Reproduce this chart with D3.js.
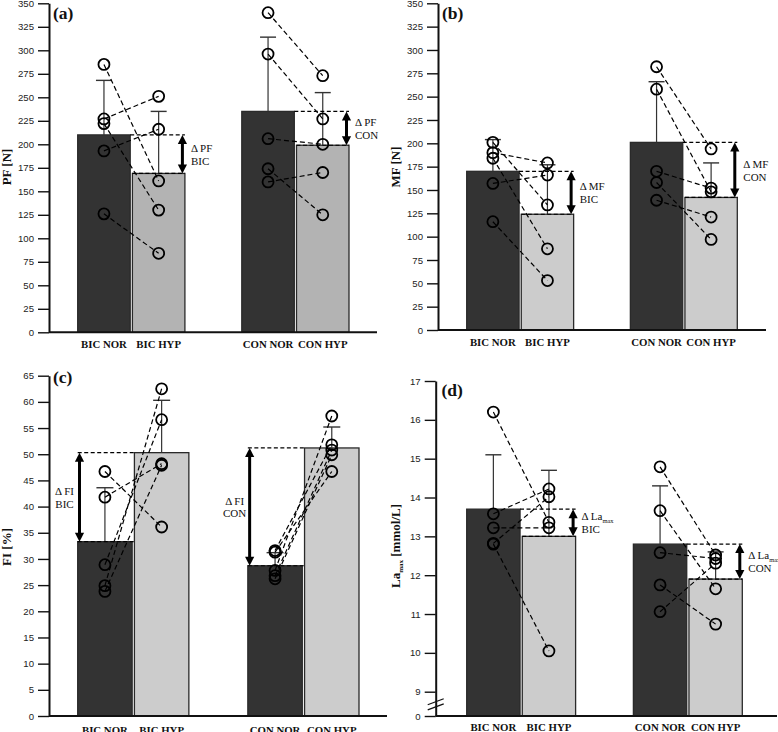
<!DOCTYPE html>
<html><head><meta charset="utf-8">
<script src="https://cdnjs.cloudflare.com/ajax/libs/d3/7.8.5/d3.min.js"></script>
<style>body{margin:0;background:#fff}svg{display:block}</style>
</head><body>
<svg id="chart" width="778" height="732"></svg>
<script>
const categories = ["BIC NOR", "BIC HYP", "CON NOR", "CON HYP"];

// (a) PF [N]
const pfMean = [210, 169, 235, 199];
const pfErrTop = [268, 235, 314, 255];
const pfBicNor = [285, 227, 222, 193, 126];
const pfBicHyp = [161, 251, 130, 216, 84];
const pfConNor = [340, 296, 206, 174, 160];
const pfConHyp = [273, 227, 200, 125, 170];
const pfTicks = [0, 25, 50, 75, 100, 125, 150, 175, 200, 225, 250, 275, 300, 325, 350];

// (b) MF [N]
const mfMean = [170, 124, 201, 142];
const mfErrTop = [204, 177, 266, 179];
const mfBicNor = [201, 190, 184, 157, 116];
const mfBicHyp = [134, 179, 87, 166, 53];
const mfConNor = [282, 258, 170, 158, 139];
const mfConHyp = [194, 148, 152, 97, 121];
const mfTicks = [0, 25, 50, 75, 100, 125, 150, 175, 200, 225, 250, 275, 300, 325, 350];

// (c) FI [%]
const fiMean = [33.3, 50.3, 28.7, 51.2];
const fiErrTop = [43.6, 60.3, 31.2, 55.2];
const fiBicNor = [46.7, 41.8, 28.9, 24.9, 23.8];
const fiBicHyp = [36.1, 48.2, 56.6, 62.5, 47.9];
const fiConNor = [31.6, 31.3, 27.8, 26.8, 26.2];
const fiConHyp = [51.8, 46.7, 57.3, 50.8, 49.9];
const fiTicks = [0, 5, 10, 15, 20, 25, 30, 35, 40, 45, 50, 55, 60, 65];

// (d) La_max [mmol/L]
const laMean = [13.7, 13.0, 12.8, 11.9];
const laErrTop = [15.1, 14.7, 14.3, 12.6];
const laBicNor = [16.2, 13.58, 13.22, 12.82, 12.8];
const laBicHyp = [13.36, 14.22, 13.22, 14.02, 10.05];
const laConNor = [14.79, 13.66, 12.58, 11.75, 11.06];
const laConHyp = [12.52, 11.65, 12.43, 10.74, 12.31];
const laTicks = [0, 9, 10, 11, 12, 13, 14, 15, 16, 17];

const panels = [
  { mean: pfMean, err: pfErrTop, bic: [pfBicNor, pfBicHyp], con: [pfConNor, pfConHyp], ticks: pfTicks,
    domain: [0, 350], range: [332.3, 3.3], ax: 49, x0: 77.7, x1: 349, xEnd: 377,
    label: "(a)", lx: 53, ly: 19, title: "PF [N]", tx: 10.5, ty: 167, catY: 348, hypFill: "#b3b3b3",
    side: "right", dName: "PF", cap: 16 },
  { mean: mfMean, err: mfErrTop, bic: [mfBicNor, mfBicHyp], con: [mfConNor, mfConHyp], ticks: mfTicks,
    domain: [0, 350], range: [330, 3.3], ax: 438, x0: 466.7, x1: 737.3, xEnd: 766,
    label: "(b)", lx: 442, ly: 19, title: "MF [N]", tx: 399.5, ty: 167, catY: 345.5, hypFill: "#cccccc",
    side: "right", dName: "MF", cap: 16 },
  { mean: fiMean, err: fiErrTop, bic: [fiBicNor, fiBicHyp], con: [fiConNor, fiConHyp], ticks: fiTicks,
    domain: [0, 65], range: [716, 375.7], ax: 49, x0: 77.7, x1: 359, xEnd: 387,
    label: "(c)", lx: 53, ly: 383, title: "FI [%]", tx: 10.5, ty: 547, catY: 734, hypFill: "#cccccc",
    side: "left", dName: "FI", cap: 17 },
  { mean: laMean, err: laErrTop, bic: [laBicNor, laBicHyp], con: [laConNor, laConHyp], ticks: laTicks,
    domain: [0, 9, 17], range: [716, 691.7, 381], ax: 435.7, x0: 466.7, x1: 742.3, xEnd: 777,
    label: "(d)", lx: 441.5, ly: 396, title: "La", tx: 400, ty: 546, catY: 731, hypFill: "#cccccc",
    side: "right", dName: "La", sub: true, cap: 16, broken: true }
];

const svg = d3.select("#chart");
const serif = "'Liberation Serif','Times New Roman',serif";
const sans = "'Liberation Sans',Arial,sans-serif";

function drawArrow(g, x, yTop, yBot) {
  const h = 9, w = 4.6;
  g.append("line").attr("x1", x).attr("x2", x).attr("y1", yTop + h - 1).attr("y2", yBot - h + 1)
    .attr("stroke", "#000").attr("stroke-width", 3);
  g.append("path").attr("d", `M${x},${yTop} L${x - w},${yTop + h} L${x + w},${yTop + h} Z`).attr("fill", "#000");
  g.append("path").attr("d", `M${x},${yBot} L${x - w},${yBot - h} L${x + w},${yBot - h} Z`).attr("fill", "#000");
}

function deltaText(g, p, x, yMid, grp, anchor) {
  const t1 = g.append("text").attr("x", x).attr("y", yMid - 2.3).attr("text-anchor", anchor)
    .attr("font-family", serif).attr("font-size", 11).attr("fill", "#111");
  t1.append("tspan").text("\u0394 " + p.dName);
  if (p.sub) t1.append("tspan").attr("font-size", 6.5).attr("dy", 3).text("max");
  g.append("text").attr("x", x).attr("y", yMid + 10.6).attr("text-anchor", anchor)
    .attr("font-family", serif).attr("font-size", 11).attr("fill", "#111").text(grp);
}

panels.forEach(p => {
  const g = svg.append("g");
  const y = d3.scaleLinear().domain(p.domain).range(p.range);
  const x = d3.scaleBand().domain([categories[0], categories[1], "_gap", categories[2], categories[3]])
    .range([p.x0, p.x1]).paddingInner(0.04).paddingOuter(0);
  const bw = x.bandwidth();
  const cx = c => x(c) + bw / 2;
  const y0 = y(0);

  // bars
  g.selectAll("rect.bar").data(categories).join("rect")
    .attr("x", c => x(c)).attr("width", bw)
    .attr("y", (c, i) => y(p.mean[i])).attr("height", (c, i) => y0 - y(p.mean[i]))
    .attr("fill", (c, i) => i % 2 === 0 ? "#333333" : p.hypFill)
    .attr("stroke", "#2a2a2a").attr("stroke-width", 1.3);

  // error bars
  categories.forEach((c, i) => {
    g.append("line").attr("x1", cx(c)).attr("x2", cx(c)).attr("y1", y(p.mean[i])).attr("y2", y(p.err[i]))
      .attr("stroke", "#333").attr("stroke-width", 1.2);
    g.append("line").attr("x1", cx(c) - p.cap / 2).attr("x2", cx(c) + p.cap / 2)
      .attr("y1", y(p.err[i])).attr("y2", y(p.err[i])).attr("stroke", "#333").attr("stroke-width", 1.4);
  });

  // delta boxes
  const dash = "4,2.5";
  [[0, 1], [2, 3]].forEach(([iN, iH]) => {
    const cN = categories[iN], cH = categories[iH];
    const yN = y(p.mean[iN]), yH = y(p.mean[iH]);
    const segs = p.side === "right"
      ? [[x(cN) + bw, x(cH) + bw, yN], [x(cH), x(cH) + bw, yH]]
      : [[x(cN), x(cH), yH], [x(cN), x(cH), yN]];
    segs.forEach(([a, b, yy]) => g.append("line").attr("x1", a).attr("x2", b).attr("y1", yy).attr("y2", yy)
      .attr("stroke", "#000").attr("stroke-width", 1.2).attr("stroke-dasharray", dash));
  });

  // subject lines and circles
  [[p.bic, 0, 1], [p.con, 2, 3]].forEach(([pair, iN, iH]) => {
    const [nor, hyp] = pair;
    const xn = cx(categories[iN]), xh = cx(categories[iH]);
    nor.forEach((v, k) => {
      g.append("line").attr("x1", xn).attr("y1", y(v)).attr("x2", xh).attr("y2", y(hyp[k]))
        .attr("stroke", "#000").attr("stroke-width", 1.2).attr("stroke-dasharray", "5,3");
    });
    nor.forEach(v => g.append("circle").attr("cx", xn).attr("cy", y(v)).attr("r", 5.5)
      .attr("fill", "none").attr("stroke", "#000").attr("stroke-width", 1.8));
    hyp.forEach(v => g.append("circle").attr("cx", xh).attr("cy", y(v)).attr("r", 5.5)
      .attr("fill", "none").attr("stroke", "#000").attr("stroke-width", 1.8));
  });

  // arrows + delta text
  [[0, 1, "BIC"], [2, 3, "CON"]].forEach(([iN, iH, grp]) => {
    const cN = categories[iN], cH = categories[iH];
    const yA = Math.min(y(p.mean[iN]), y(p.mean[iH])), yB = Math.max(y(p.mean[iN]), y(p.mean[iH]));
    const mid = (yA + yB) / 2;
    if (p.side === "right") {
      const ax = x(cH) + bw - 2.5;
      drawArrow(g, ax, yA, yB);
      deltaText(g, p, ax + 8.5, mid, grp, "start");
    } else {
      const ax = x(cN) + 1.8;
      drawArrow(g, ax, yA, yB);
      deltaText(g, p, ax - 15, mid, grp, "middle");
    }
  });

  // y axis
  const minor = [];
  for (let k = 0; k < p.ticks.length - 1; k++) {
    if (p.broken && p.ticks[k] === 0) continue;
    minor.push((p.ticks[k] + p.ticks[k + 1]) / 2);
  }
  const axG = g.append("g").attr("transform", `translate(${p.ax},0)`);
  axG.call(d3.axisLeft(y).tickValues(minor).tickSize(6).tickSizeOuter(0).tickFormat(""));
  axG.call(d3.axisLeft(y).tickValues(p.ticks).tickSize(11).tickSizeOuter(0).tickPadding(4).tickFormat(d3.format("d")));
  axG.selectAll(".domain").attr("stroke", "#111").attr("stroke-width", 2);
  axG.selectAll(".tick line").attr("stroke", "#111").attr("stroke-width", 1.4);
  axG.selectAll(".tick text").attr("font-family", sans).attr("font-size", 9.6).attr("fill", "#222");

  // x axis line
  g.append("line").attr("x1", p.ax).attr("x2", p.xEnd).attr("y1", y0).attr("y2", y0)
    .attr("stroke", "#111").attr("stroke-width", 2);

  // axis break
  if (p.broken) {
    const yb = (y(0) + y(9)) / 2 + 0.5;
    [-2.6, 2.6].forEach(o => {
      g.append("line").attr("x1", p.ax - 8).attr("x2", p.ax + 8).attr("y1", yb + o + 3).attr("y2", yb + o - 3)
        .attr("stroke", "#111").attr("stroke-width", 1.3);
    });
  }

  // category labels
  g.selectAll("text.cat").data(categories).join("text")
    .attr("x", c => cx(c)).attr("y", p.catY).attr("text-anchor", "middle")
    .attr("font-family", serif).attr("font-weight", "bold").attr("font-size", 10.8).attr("fill", "#111")
    .text(c => c);

  // panel label
  g.append("text").attr("x", p.lx).attr("y", p.ly).attr("font-family", serif).attr("font-weight", "bold")
    .attr("font-size", 17.5).attr("fill", "#111").text(p.label);

  // y title
  const tt = g.append("text").attr("transform", `translate(${p.tx},${p.ty}) rotate(-90)`)
    .attr("text-anchor", "middle").attr("font-family", serif).attr("font-weight", "bold")
    .attr("font-size", 13).attr("fill", "#111");
  if (p.sub) {
    tt.append("tspan").text("La");
    tt.append("tspan").attr("font-size", 7).attr("dy", 3).text("max");
    tt.append("tspan").attr("dy", -3).text(" [mmol/L]");
  } else {
    tt.text(p.title);
  }
});
</script>
</body></html>
